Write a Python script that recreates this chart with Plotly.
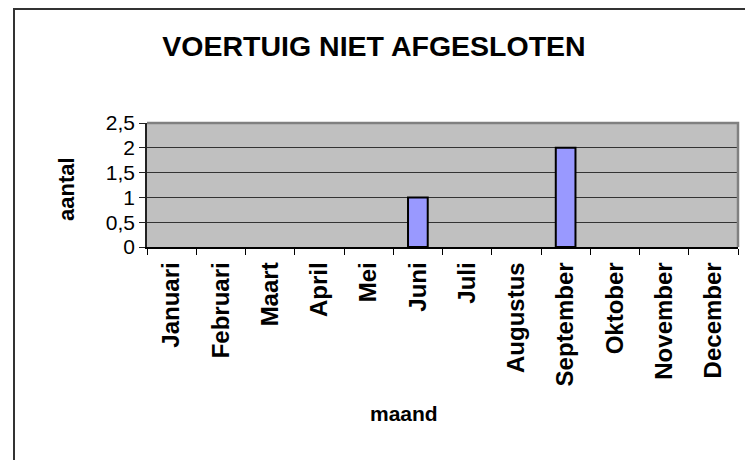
import plotly.graph_objects as go

months = ["Januari", "Februari", "Maart", "April", "Mei", "Juni", "Juli",
          "Augustus", "September", "Oktober", "November", "December"]
aantal = [0, 0, 0, 0, 0, 1, 0, 0, 2, 0, 0, 0]
y_tickvals = [0, 0.5, 1, 1.5, 2, 2.5]
y_ticktext = ["0", "0,5", "1", "1,5", "2", "2,5"]
title_text = "VOERTUIG NIET AFGESLOTEN"
x_title = "maand"
y_title = "aantal"

# page has an 8px body margin; work in page pixel coordinates and convert
OFF = 8
W, H = 753 - OFF, 460 - OFF
PL, PR, PT, PB = 147, 738, 123, 247  # plot area in page pixels
L, T = PL - OFF, PT - OFF
R, B = W - (PR - OFF), H - (PB - OFF)
pw, ph = W - L - R, H - T - B

def px_x(p):
    return (p - OFF - L) / pw

def px_y(p):
    return (H - B - (p - OFF)) / ph

fig = go.Figure()
fig.add_trace(go.Bar(
    x=months, y=aantal,
    marker=dict(color="#9999FF",
                line=dict(color="#000000", width=[2 if v > 0 else 0 for v in aantal])),
    showlegend=False,
))

fig.update_layout(
    width=W, height=H,
    margin=dict(l=L, r=R, t=T, b=B, autoexpand=False),
    paper_bgcolor="white",
    plot_bgcolor="#C0C0C0",
    bargap=0.6,
    font=dict(family="Liberation Sans, Arial, sans-serif", color="black"),
    title=dict(text="<b>" + title_text + "</b>", x=(374 - OFF) / W, xanchor="center",
               y=1 - (46 - OFF) / H, yanchor="middle", yref="container",
               font=dict(size=28.5, color="black")),
)

fig.update_xaxes(
    type="category",
    showgrid=False,
    showline=True, linecolor="black", linewidth=1.5,
    ticks="outside", ticklen=6, tickcolor="black", tickwidth=1,
    tickson="boundaries",
    tickangle=-90,
    tickfont=dict(size=24, color="black", family="Liberation Sans, Arial, sans-serif", weight="bold"),
    ticklabelstandoff=4,
    range=[-0.5, 11.5],
)
fig.update_yaxes(
    range=[0, 2.5],
    tickvals=y_tickvals, ticktext=y_ticktext,
    showgrid=True, gridcolor="#333333", gridwidth=1,
    showline=True, linecolor="#222222", linewidth=1.5,
    ticks="outside", ticklen=6, tickcolor="#222222", tickwidth=1,
    tickfont=dict(size=21, color="black"),
    zeroline=False,
)

# plot-area border (top and right, gray)
fig.add_shape(type="path", xref="paper", yref="paper",
              path="M 0 1 L 1 1 L 1 0",
              line=dict(color="#808080", width=2.5))
# chart frame
fig.add_shape(type="rect", xref="paper", yref="paper",
              x0=px_x(14), x1=px_x(800), y0=px_y(520), y1=px_y(9),
              line=dict(color="#333333", width=2))

fig.add_annotation(text="<b>" + y_title + "</b>", xref="paper", yref="paper",
                   x=px_x(66), y=px_y(189), showarrow=False, textangle=-90,
                   font=dict(size=22, color="black"), xanchor="center", yanchor="middle")
fig.add_annotation(text="<b>" + x_title + "</b>", xref="paper", yref="paper",
                   x=px_x(404), y=px_y(413), showarrow=False,
                   font=dict(size=21, color="black"), xanchor="center", yanchor="middle")

fig.write_html("out.html")
